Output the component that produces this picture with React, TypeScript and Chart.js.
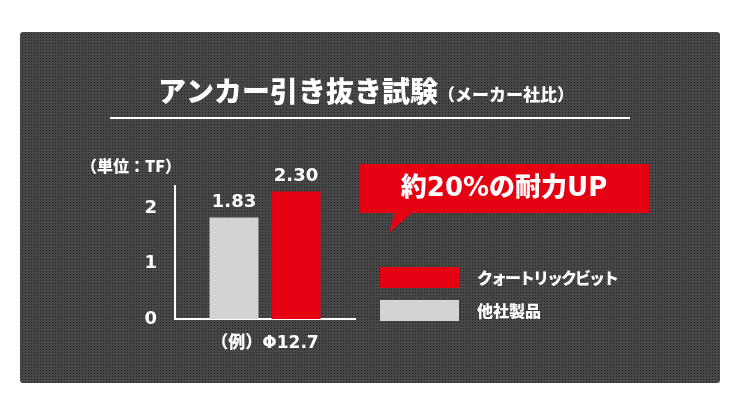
import React, { useEffect, useRef } from "react";
import { Chart, registerables } from "chart.js";

Chart.register(...registerables);

// ---- data ----
const categories = ["（例）Φ12.7"];
const seriesNames = ["他社製品", "クォートリックビット"];
const otherValues = [1.83];
const quoteValues = [2.3];
const yTicks = [0, 1, 2];
const yMax = 2.4;
const titleMain = "アンカー引き抜き試験";
const titleSub = "（メーカー社比）";
const unitLabel = "（単位：TF）";
const calloutText = "約20%の耐力UP";

// ---- styles ----
const GRAY = "#d3d3d3";
const RED = "#e50012";
const WHITE = "#ffffff";
const JP = "'Noto Sans CJK JP', sans-serif";
const NUM = "'DejaVu Sans', 'Noto Sans CJK JP', sans-serif";

function makePattern(ctx: CanvasRenderingContext2D) {
  const c = document.createElement("canvas");
  c.width = 3;
  c.height = 3;
  const p = c.getContext("2d")!;
  p.fillStyle = "#474747";
  p.fillRect(0, 0, 3, 3);
  p.fillStyle = "#202020";
  p.fillRect(1, 1, 1, 1);
  return ctx.createPattern(c, "repeat");
}

const decorPlugin = {
  id: "decor",
  beforeDraw(chart: any) {
    const ctx: CanvasRenderingContext2D = chart.ctx;
    ctx.save();
    ctx.fillStyle = "#ffffff";
    ctx.fillRect(0, 0, chart.width, chart.height);
    // panel
    ctx.fillStyle = makePattern(ctx) || "#3e3e3e";
    ctx.beginPath();
    (ctx as any).roundRect(20, 32, 700, 351, 3);
    ctx.fill();

    // title
    ctx.fillStyle = WHITE;
    ctx.textBaseline = "alphabetic";
    ctx.textAlign = "left";
    ctx.font = `900 28px ${JP}`;
    const w1 = ctx.measureText(titleMain).width;
    ctx.font = `900 17px ${JP}`;
    const w2 = ctx.measureText(titleSub).width;
    const x0 = 366 - (w1 + w2) / 2;
    ctx.font = `900 28px ${JP}`;
    ctx.fillText(titleMain, x0, 102);
    ctx.font = `900 17px ${JP}`;
    ctx.fillText(titleSub, x0 + w1, 101);

    // rule under title
    ctx.fillStyle = WHITE;
    ctx.fillRect(110, 117, 520, 2);

    // unit label
    ctx.font = `900 16px ${JP}`;
    ctx.textBaseline = "middle";
    ctx.fillText(unitLabel, 81, 166);

    // callout
    ctx.fillStyle = RED;
    ctx.fillRect(360, 164, 289, 49);
    ctx.beginPath();
    ctx.moveTo(395, 212);
    ctx.lineTo(413, 212);
    ctx.lineTo(389, 233);
    ctx.closePath();
    ctx.fill();
    ctx.fillStyle = WHITE;
    ctx.font = `900 26px ${NUM}`;
    ctx.textAlign = "center";
    ctx.fillText(calloutText, 504, 189);

    // legend (red first)
    const legendColors = [RED, GRAY];
    const legendNames = [seriesNames[1], seriesNames[0]];
    const ys = [267, 300];
    ctx.textAlign = "left";
    legendNames.forEach((name, i) => {
      ctx.fillStyle = legendColors[i];
      ctx.fillRect(380, ys[i], 79, 21);
      ctx.fillStyle = WHITE;
      ctx.font = `900 16px ${JP}`;
      (ctx as any).letterSpacing = i === 0 ? "-2px" : "0px";
      ctx.fillText(name, 477, ys[i] + 10.5);
    });
    (ctx as any).letterSpacing = "0px";
    ctx.restore();
  },
  afterDatasetsDraw(chart: any) {
    const ctx: CanvasRenderingContext2D = chart.ctx;
    ctx.save();
    ctx.fillStyle = WHITE;
    ctx.font = `bold 18px ${NUM}`;
    ctx.textAlign = "center";
    ctx.textBaseline = "middle";
    chart.data.datasets.forEach((ds: any, di: number) => {
      const meta = chart.getDatasetMeta(di);
      meta.data.forEach((el: any, i: number) => {
        const v = ds.data[i] as number;
        ctx.fillText(v.toFixed(2), el.x, el.y - 15);
      });
    });
    ctx.restore();
  },
};

export default function App() {
  const ref = useRef<HTMLCanvasElement>(null);
  useEffect(() => {
    const chart = new Chart(ref.current!, {
      type: "bar",
      data: {
        labels: categories,
        datasets: [
          {
            label: seriesNames[0],
            data: otherValues,
            backgroundColor: GRAY,
            barPercentage: 0.79,
            categoryPercentage: 0.689,
          },
          {
            label: seriesNames[1],
            data: quoteValues,
            backgroundColor: RED,
            barPercentage: 0.79,
            categoryPercentage: 0.689,
          },
        ],
      },
      options: {
        responsive: false,
        animation: false,
        events: [],
        layout: { padding: { left: 135, right: 385, top: 186, bottom: 37 } },
        plugins: {
          legend: { display: false },
          title: { display: false },
          tooltip: { enabled: false },
        },
        scales: {
          x: {
            grid: { display: false, drawTicks: false },
            border: { display: true, color: WHITE, width: 2 },
            ticks: {
              color: WHITE,
              padding: 14,
              font: { family: NUM, size: 17, weight: "900" },
            },
            afterFit: (s: any) => {
              s.height = 50;
            },
          },
          y: {
            min: 0,
            max: yMax,
            grid: { display: false, drawTicks: false },
            border: { display: true, color: WHITE, width: 2 },
            afterBuildTicks: (s: any) => {
              s.ticks = yTicks.map((v) => ({ value: v }));
            },
            ticks: {
              color: WHITE,
              padding: 18,
              font: { family: NUM, size: 18, weight: "bold" },
            },
            afterFit: (s: any) => {
              s.width = 40;
            },
          },
        },
      },
      plugins: [decorPlugin],
    });
    return () => chart.destroy();
  }, []);
  return (
    <div style={{ position: "absolute", left: 0, top: 0, width: 740, height: 406 }}>
      <canvas ref={ref} width={740} height={406} style={{ display: "block" }} />
    </div>
  );
}
